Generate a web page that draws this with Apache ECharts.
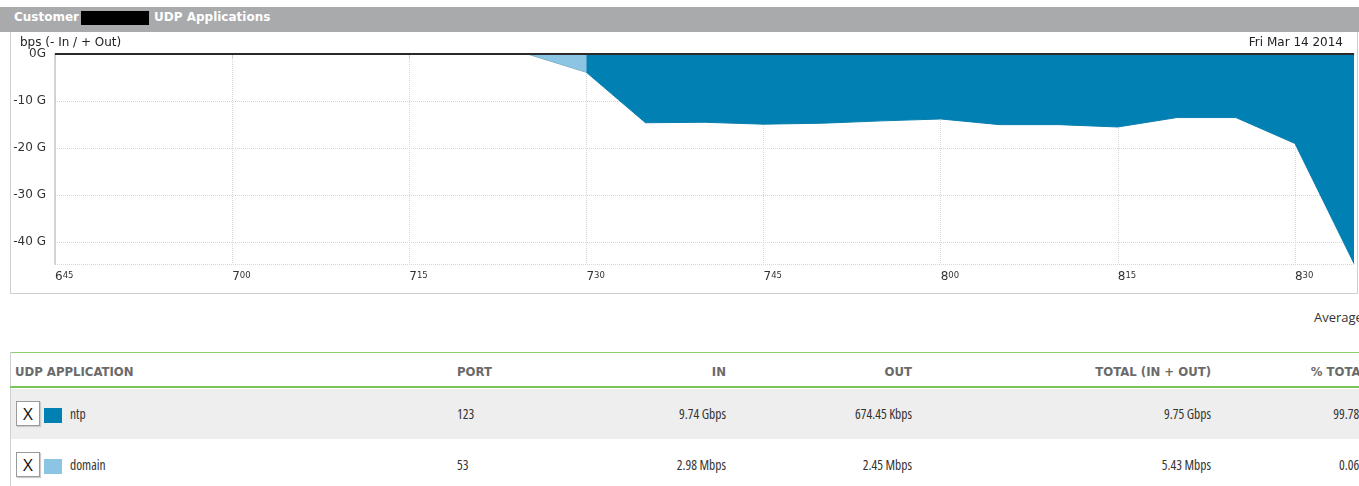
<!DOCTYPE html>
<html>
<head>
<meta charset="utf-8">
<script src="https://cdn.jsdelivr.net/npm/echarts@6/dist/echarts.min.js"></script>
<style>
  html, body { margin:0; padding:0; }
  body { width:1359px; height:486px; overflow:hidden; background:#fff; position:relative; font-family:'DejaVu Sans', sans-serif; }
  .abs { position:absolute; white-space:nowrap; }
  .th { font-family:'DejaVu Sans Condensed','DejaVu Sans',sans-serif; font-stretch:condensed; font-weight:bold; font-size:13px; color:#6a6a6a; height:19px; line-height:19px; }
  .td { font-family:'Open Sans',sans-serif; font-stretch:75%; font-size:13.5px; color:#333; height:19px; line-height:19px; }
  .r { text-align:right; }
  .cb { position:absolute; box-sizing:border-box; width:24px; height:25px; border:1px solid #9a9a9a; background:#fff; box-shadow:1px 1px 1px #ccc; font-family:'Open Sans',sans-serif; font-size:17px; line-height:23px; text-align:center; color:#111; }
  .sq { position:absolute; width:18px; height:15px; }
</style>
</head>
<body>
<div class="abs" style="left:0;top:7px;width:1359px;height:25px;background:#a9aaac;"></div>
<div class="abs" style="left:14px;top:10px;height:18px;line-height:18px;color:#fff;font:bold 12px 'DejaVu Sans';">Customer</div>
<div class="abs" style="left:81px;top:11px;width:68px;height:14px;background:#000;"></div>
<div class="abs" style="left:154px;top:10px;height:18px;line-height:18px;color:#fff;font:bold 12px 'DejaVu Sans';">UDP Applications</div>
<div class="abs" style="left:10px;top:32px;width:1346px;height:261px;border:1px solid #cfcfcf;border-top:none;"></div>
<div id="chart" class="abs" style="left:0;top:0;width:1359px;height:300px;"></div>
<div id="table"></div>

<script>
// ---- chart data ----
const times = ['6:45','6:50','6:55','7:00','7:05','7:10','7:15','7:20','7:25','7:30','7:35','7:40',
               '7:45','7:50','7:55','8:00','8:05','8:10','8:15','8:20','8:25','8:30','8:35'];
// Gbps, negative = In
const ntpIn = [null,null,null,null,null,null,null,null,null,-3.9,-14.6,-14.5,
               -14.9,-14.7,-14.2,-13.8,-15.0,-15.0,-15.5,-13.5,-13.5,-19.0,-44.5];
const domainIn = [null,null,null,null,null,null,null,null,0,-3.9,null,null,
                  null,null,null,null,null,null,null,null,null,null,null];
const yMin = -44.6;
const axisTitle = 'bps (- In / + Out)';
const dateLabel = 'Fri Mar 14 2014';

// ---- table data ----
const headers = ['UDP APPLICATION','PORT','IN','OUT','TOTAL (IN + OUT)','% TOTAL'];
const appNames = ['ntp','domain'];
const ports = ['123','53'];
const inRates = ['9.74 Gbps','2.98 Mbps'];
const outRates = ['674.45 Kbps','2.45 Mbps'];
const totals = ['9.75 Gbps','5.43 Mbps'];
const pcts = ['99.78%','0.06%'];
const appColors = ['#0080b3','#8cc5e3'];

const chart = echarts.init(document.getElementById('chart'), null, {renderer:'canvas'});
chart.setOption({
  animation:false,
  backgroundColor:'transparent',
  grid:{left:55, right:5, top:54, height:210},
  graphic:[
    {type:'text', left:20, top:37, style:{text:axisTitle, font:'12px "DejaVu Sans"', fill:'#222'}},
    {type:'text', right:16, top:37, style:{text:dateLabel, font:'12px "DejaVu Sans"', fill:'#222'}}
  ],
  xAxis:{
    type:'category', data:times, boundaryGap:false,
    axisLine:{lineStyle:{color:'#c8c8c8', width:1.5}},
    axisTick:{show:true, interval:2, length:4, lineStyle:{color:'#cccccc'}},
    splitLine:{show:true, interval:2, lineStyle:{color:'#d6d6d6', type:'dotted'}},
    axisLabel:{
      interval:2, align:'left', margin:7,
      formatter:function(v){ const p=v.split(':'); return '{h|'+p[0]+'}{m|'+p[1]+'}'; },
      rich:{
        h:{fontFamily:'DejaVu Sans', fontSize:12, color:'#333', verticalAlign:'bottom'},
        m:{fontFamily:'DejaVu Sans', fontSize:8.5, color:'#333', verticalAlign:'top'}
      }
    }
  },
  yAxis:{
    type:'value', min:yMin, max:0,
    axisLine:{show:true, lineStyle:{color:'#c8c8c8', width:1.5}},
    axisTick:{show:false},
    splitLine:{show:true, lineStyle:{color:'#d6d6d6', type:'dotted'}},
    axisLabel:{
      showMinLabel:false, margin:9, color:'#333', fontFamily:'DejaVu Sans', fontSize:12,
      formatter:function(v){ if (Math.abs(v % 10) > 1e-6) return ''; return v===0 ? '0G' : v + ' G'; }
    }
  },
  series:[
    {name:'domain', type:'line', data:domainIn, symbol:'none', connectNulls:false,
     lineStyle:{width:1, color:'#7fb2c8'}, areaStyle:{color:appColors[1], opacity:1}, z:2},
    {name:'ntp', type:'line', data:ntpIn, symbol:'none', connectNulls:false,
     lineStyle:{width:1, color:'#0a7fae'}, areaStyle:{color:appColors[0], opacity:1}, z:3,
     markLine:{silent:true, symbol:'none', label:{show:false},
       lineStyle:{color:'#2a2a2a', width:2, type:'solid'}, data:[{yAxis:0}]}}
  ]
});

// ---- table (HTML) ----
const T = document.getElementById('table');
function add(html){ T.insertAdjacentHTML('beforeend', html); }
add('<div class="abs td" style="left:1314px;top:308px;font-stretch:100%;font-size:13px;">Average</div>');
add('<div class="abs" style="left:10px;top:352px;width:1349px;height:1px;background:#8fd06e;"></div>');
add('<div class="abs" style="left:10px;top:352px;width:1px;height:134px;background:#d0d0d0;"></div>');
add('<div class="abs" style="left:11px;top:389px;width:1348px;height:50px;background:#eeeeee;"></div>');
add('<div class="abs" style="left:10px;top:386px;width:1349px;height:2px;background:#7cc358;"></div>');
const colLeft = [15, 457];
const colRight = [726, 912, 1211, 1368];
function cells(vals, top, cls){
  let h='';
  h += '<div class="abs '+cls+'" style="left:'+colLeft[0]+'px;top:'+top+'px;">'+vals[0]+'</div>';
  h += '<div class="abs '+cls+'" style="left:'+colLeft[1]+'px;top:'+top+'px;">'+vals[1]+'</div>';
  for (let i=0;i<4;i++){
    h += '<div class="abs '+cls+' r" style="right:'+(1359-colRight[i])+'px;top:'+top+'px;">'+vals[i+2]+'</div>';
  }
  add(h);
}
cells(headers, 362, 'th');
const rowTops = [405, 456];
const boxTops = [401, 452];
for (let i=0;i<appNames.length;i++){
  add('<div class="cb" style="left:16px;top:'+boxTops[i]+'px;">X</div>');
  add('<div class="sq" style="left:44px;top:'+(boxTops[i]+7)+'px;background:'+appColors[i]+';"></div>');
  cells(['<span style="padding-left:55px">'+appNames[i]+'</span>', ports[i], inRates[i], outRates[i], totals[i], pcts[i]], rowTops[i], 'td');
}
</script>
</body>
</html>
